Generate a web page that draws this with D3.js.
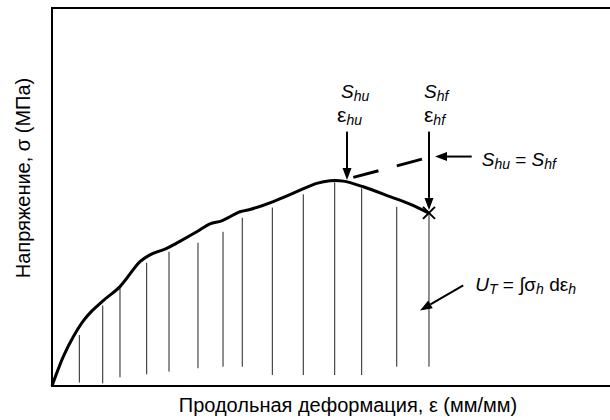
<!DOCTYPE html>
<html>
<head>
<meta charset="utf-8">
<script src="https://cdn.jsdelivr.net/npm/d3@7"></script>
<style>
  body { margin: 0; background: #fff; }
  svg { display: block; font-family: "Liberation Sans", Arial, sans-serif; }
</style>
</head>
<body>
<svg width="610" height="420"></svg>
<script>
// stress-strain curve (strain in arbitrary units, stress in %)
const curveStrain = [0, 0.083, 0.199, 0.375, 0.551, 0.699, 0.903, 1.197, 1.549, 1.725, 2.019, 2.195,
  2.548, 2.782, 2.988, 3.31, 3.486, 3.896, 4.308, 4.66, 4.894, 5.129, 5.481, 5.951, 6.303, 6.625];
const curveStress = [0, 3.4, 7.8, 13.0, 17.2, 19.8, 22.6, 26.3, 32.9, 34.7, 36.4, 37.8,
  40.8, 42.9, 43.7, 46.1, 46.7, 48.8, 51.4, 53.6, 54.3, 54.2, 52.7, 50.1, 48.1, 45.8];

// hatch lines under the curve (area = toughness)
const hatchStrain = [0.481, 0.893, 1.197, 1.667, 2.06, 2.57, 3.011, 3.35, 3.879, 4.424, 4.977, 5.452, 6.069, 6.637];
const hatchTop    = [13.5, 21.3, 26.3, 32.6, 35.5, 37.9, 40.8, 44.5, 47.2, 50.7, 53.9, 52.3, 47.4, 45.8];
const hatchBottom = [0.9, 0.7, 2.3, 3.1, 3.8, 4.7, 5.1, 5.1, 2.9, 2.9, 2.9, 2.9, 5.1, 5.1];

// key points
const epsHu = 5.194, sHu = 54.5;     // peak
const epsHf = 6.637, sHf = 45.8;     // failure
const dashStart = [5.305, 55.2], dashEnd = [6.637, 60.5];
const arrowTopStress = 67.3;
const eqArrowFrom = 7.389, eqArrowTo = 6.743, eqArrowStress = 60.7;
const utFrom = [7.24, 26.6], utTo = [6.48, 20.0];

const svg = d3.select("svg");
const x = d3.scaleLinear().domain([0, 10]).range([52, 620]);
const y = d3.scaleLinear().domain([0, 100]).range([386, 8]);

// frame
svg.append("path")
  .attr("d", `M${x(10) + 20},${y(100)} H${x(0)} V${y(0)} H${x(10) + 20}`)
  .attr("fill", "none").attr("stroke", "#000").attr("stroke-width", 2);

// hatching
svg.append("g").selectAll("line")
  .data(hatchStrain)
  .join("line")
  .attr("x1", d => x(d)).attr("x2", d => x(d))
  .attr("y1", (d, i) => y(hatchTop[i]))
  .attr("y2", (d, i) => y(hatchBottom[i]))
  .attr("stroke", "#222").attr("stroke-width", 1);

// curve
const pts = curveStrain.map((d, i) => [d, curveStress[i]]);
svg.append("path")
  .datum(pts)
  .attr("d", d3.line().x(d => x(d[0])).y(d => y(d[1])).curve(d3.curveCatmullRom))
  .attr("fill", "none").attr("stroke", "#000").attr("stroke-width", 3)
  .attr("stroke-linejoin", "round");

// failure cross
const cx = x(epsHf), cy = y(sHf), cs = 6;
svg.append("path")
  .attr("d", `M${cx - cs},${cy - cs}L${cx + cs},${cy + cs}M${cx - cs},${cy + cs}L${cx + cs},${cy - cs}`)
  .attr("stroke", "#000").attr("stroke-width", 2);

// arrow helper: shaft from (x1,y1) to tip (x2,y2)
function arrow(x1, y1, x2, y2, len = 12, half = 4.5) {
  const a = Math.atan2(y2 - y1, x2 - x1);
  const bx = x2 - len * Math.cos(a), by = y2 - len * Math.sin(a);
  svg.append("line")
    .attr("x1", x1).attr("y1", y1).attr("x2", bx).attr("y2", by)
    .attr("stroke", "#000").attr("stroke-width", 2);
  const px = -Math.sin(a) * half, py = Math.cos(a) * half;
  svg.append("path")
    .attr("d", `M${x2},${y2}L${bx + px},${by + py}L${bx - px},${by - py}Z`)
    .attr("fill", "#000");
}

arrow(x(epsHu), y(arrowTopStress), x(epsHu), y(sHu));
arrow(x(epsHf), y(arrowTopStress), x(epsHf), y(sHf) - 3);
arrow(x(eqArrowFrom), y(eqArrowStress), x(eqArrowTo), y(eqArrowStress));
arrow(x(utFrom[0]), y(utFrom[1]), x(utTo[0]), y(utTo[1]));

// dashed line
svg.append("line")
  .attr("x1", x(dashStart[0])).attr("y1", y(dashStart[1]))
  .attr("x2", x(dashEnd[0])).attr("y2", y(dashEnd[1]))
  .attr("stroke", "#000").attr("stroke-width", 3)
  .attr("stroke-dasharray", "26,19");

const mainSize = 19, subSize = 14;

// labels with subscripts
function label(xp, yp, main, sub, italic, size) {
  const t = svg.append("text").attr("x", xp).attr("y", yp).attr("font-size", size);
  t.append("tspan").attr("font-style", italic ? "italic" : "normal").text(main);
  t.append("tspan").attr("font-style", "italic").attr("font-size", subSize)
    .attr("dy", 3).text(sub);
  return t;
}

label(x(epsHu) - 6, 98, "S", "hu", true, mainSize);
label(x(epsHf) - 5, 98, "S", "hf", true, mainSize);
label(x(epsHu) - 10, 122, "ε", "hu", false, 21);
label(x(epsHf) - 5, 122, "ε", "hf", false, 21);

// S_hu = S_hf
const eq = svg.append("text").attr("x", x(eqArrowFrom) + 10).attr("y", y(eqArrowStress) + 9)
  .attr("font-size", mainSize);
eq.append("tspan").attr("font-style", "italic").text("S");
eq.append("tspan").attr("font-style", "italic").attr("font-size", subSize).attr("dy", 3).text("hu");
eq.append("tspan").attr("dy", -3).text(" = ");
eq.append("tspan").attr("font-style", "italic").text("S");
eq.append("tspan").attr("font-style", "italic").attr("font-size", subSize).attr("dy", 3).text("hf");

// U_T = ∫σ_h dε_h
const ut = svg.append("text").attr("x", x(utFrom[0]) + 12).attr("y", y(utFrom[1]) + 6)
  .attr("font-size", mainSize);
ut.append("tspan").attr("font-style", "italic").text("U");
ut.append("tspan").attr("font-style", "italic").attr("font-size", subSize).attr("dy", 3).text("T");
ut.append("tspan").attr("dy", -3).text(" = ∫σ");
ut.append("tspan").attr("font-style", "italic").attr("font-size", subSize).attr("dy", 3).text("h");
ut.append("tspan").attr("dy", -3).text(" dε");
ut.append("tspan").attr("font-style", "italic").attr("font-size", subSize).attr("dy", 3).text("h");

// axis titles
svg.append("text")
  .attr("x", 348).attr("y", 412)
  .attr("text-anchor", "middle").attr("font-size", 20)
  .text("Продольная деформация, ε (мм/мм)");

svg.append("text")
  .attr("transform", "translate(30,178) rotate(-90)")
  .attr("text-anchor", "middle").attr("font-size", 20)
  .text("Напряжение, σ (МПа)");
</script>
</body>
</html>
